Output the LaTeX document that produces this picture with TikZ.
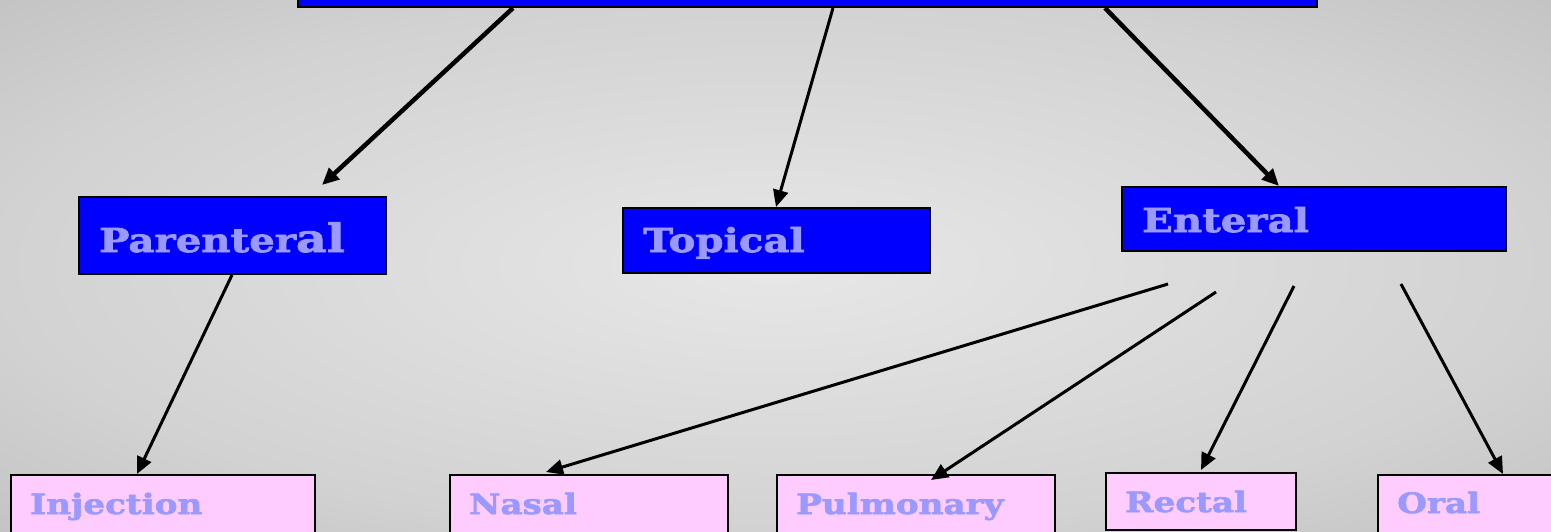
\documentclass[tikz,border=0pt]{standalone}
\usepackage{fontspec}
\setmainfont{DejaVu Serif}
\newfontfamily\heavy[FakeBold=2.2,FakeStretch=1.22]{DejaVu Serif Bold}
\usetikzlibrary{arrows.meta,calc}
\definecolor{bgA}{HTML}{E7E7E7}
\definecolor{bgB}{HTML}{D2D2D2}
\definecolor{bgC}{HTML}{C3C3C3}
\definecolor{boxblue}{HTML}{0000FF}
\definecolor{boxpink}{HTML}{FFCCFF}
\definecolor{txt}{HTML}{9999FF}
\pgfdeclareradialshading{bgshade}{\pgfpoint{0bp}{0bp}}{color(0bp)=(bgA); color(25bp)=(bgB); color(36bp)=(bgC); color(50bp)=(bgC)}
\tikzset{
  bluebox/.style={draw=black, line width=2pt, fill=boxblue, inner sep=0pt, anchor=north west},
  pinkbox/.style={draw=black, line width=2pt, fill=boxpink, inner sep=0pt, anchor=north west},
  bigtxt/.style={text=txt, anchor=base west, inner sep=0pt, font=\heavy\fontsize{33}{33}\selectfont},
  smalltxt/.style={text=txt, anchor=base west, inner sep=0pt, font=\heavy\fontsize{28}{28}\selectfont},
  thickarrow/.style={line width=4.5pt, -{Triangle[length=17pt,width=15pt]}},
  thinarrow/.style={line width=3pt, -{Triangle[length=17pt,width=15pt]}}
}
\begin{document}
\begin{tikzpicture}[x=1pt,y=-1pt]
\useasboundingbox (0,0) rectangle (1551,531);
\clip (0,0) rectangle (1551,531);
\shade[shading=bgshade] (0,0) rectangle (1551,531);
% boxes
\node[bluebox, minimum width=1019pt, minimum height=66pt] (top) at (297,-60) {};
\node[bluebox, minimum width=307pt, minimum height=77pt] (par) at (78,196) {};
\node[bluebox, minimum width=307pt, minimum height=65pt] (topi) at (622,207) {};
\node[bluebox, minimum width=384pt, minimum height=64pt] (ent) at (1121,186) {};
\node[pinkbox, minimum width=304pt, minimum height=90pt] (inj) at (10,474) {};
\node[pinkbox, minimum width=278pt, minimum height=90pt] (nas) at (449,474) {};
\node[pinkbox, minimum width=278pt, minimum height=90pt] (pul) at (776,474) {};
\node[pinkbox, minimum width=190pt, minimum height=57pt] (rec) at (1105,472) {};
\node[pinkbox, minimum width=250pt, minimum height=90pt] (oral) at (1377,474) {};
% texts
\node[bigtxt] (partxt) at (99,252) {Parenter{\fontsize{39}{39}\selectfont al}};
\node[bigtxt] (topitxt) at (643,252) {Topical};
\node[bigtxt] (enttxt) at (1142,232) {Enteral};
\node[smalltxt] (injtxt) at (30,514) {Injection};
\node[smalltxt] (nastxt) at (469,514) {Nasal};
\node[smalltxt] (pultxt) at (796,514) {Pulmonary};
\node[smalltxt] (rectxt) at (1125,512) {Rectal};
\node[smalltxt] (oraltxt) at (1397,513) {Oral};
% free starts of enteral branches
\coordinate (e1) at (1168,284);
\coordinate (e2) at (1216,292);
\coordinate (e3) at (1294,286);
\coordinate (e4) at (1401,284);
% connectors
\draw[thickarrow] ([xshift=216pt]top.south west) -- ([xshift=244pt,yshift=11pt]par.north west);
\draw[thinarrow] ([xshift=536pt]top.south west) -- ([xshift=154pt]topi.north west);
\draw[thickarrow] ([xshift=808pt]top.south west) -- ([xshift=158pt]ent.north west);
\draw[thinarrow] ([xshift=154pt]par.south west) -- ([xshift=127pt]inj.north west);
\draw[thinarrow] (e1) -- ([xshift=97pt,yshift=2pt]nas.north west);
\draw[thinarrow] (e2) -- ([xshift=155pt,yshift=-6pt]pul.north west);
\draw[thinarrow] (e3) -- ([xshift=96pt,yshift=2pt]rec.north west);
\draw[thinarrow] (e4) -- ([xshift=126pt]oral.north west);
\end{tikzpicture}
\end{document}
